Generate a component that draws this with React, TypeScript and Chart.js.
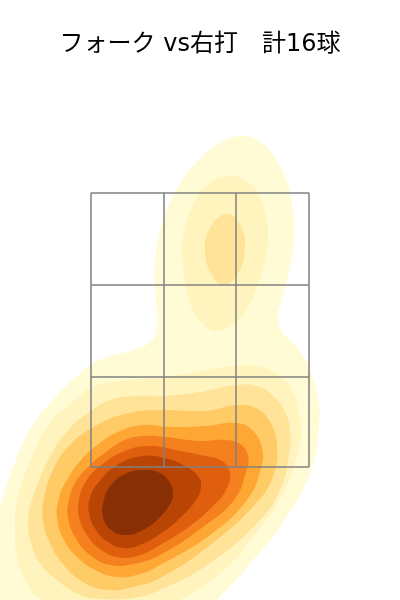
import React, { useEffect, useRef } from "react";
import { Chart, registerables } from "chart.js";

Chart.register(...registerables);

type P = [number, number];

const titleText = "フォーク vs右打　計16球";

const zoneX = [91, 164, 236, 309];
const zoneY = [193, 285, 377, 467];

const level1: P[] = [[245,136],[262,143],[274,156],[287,182],[293,212],[294,238],[289,272],[280,305],[278,318],[283,333],[297,347],[310,370],[318,400],[319,425],[310,473],[283,523],[260,552],[217,600],[170,640],[60,660],[-30,600],[-8,530],[2,500],[17,457],[33,425],[53,400],[75,378],[100,360],[133,350],[150,342],[157,328],[156,300],[155,272],[158,240],[165,215],[177,188],[197,162],[220,143]];
const level2a: P[] = [[233,176],[253,187],[265,212],[268,238],[263,268],[250,303],[238,320],[217,331],[202,323],[190,303],[183,265],[183,238],[192,208],[207,185]];
const level2b: P[] = [[292,390],[299,413],[301,433],[298,453],[291,475],[278,503],[260,528],[227,567],[180,600],[110,625],[42,600],[25,580],[17,557],[15,533],[17,500],[32,457],[50,423],[75,400],[92,387],[113,382],[140,379],[165,377],[200,371],[243,365],[262,367],[280,376]];
const level3a: P[] = [[227,214],[240,225],[245,248],[237,275],[223,285],[212,275],[205,252],[210,228]];
const level3b: P[] = [[284,410],[290,430],[289,455],[280,490],[260,520],[210,563],[160,590],[133,598],[100,599],[80,595],[57,580],[40,563],[31,543],[28,523],[32,500],[50,457],[70,428],[91,411],[113,399],[140,396],[165,396],[200,392],[237,385],[257,386],[272,395]];
const level4: P[] = [[270,422],[277,445],[274,473],[259,500],[210,545],[160,578],[133,587],[107,590],[83,582],[63,564],[50,543],[43,520],[44,498],[53,470],[68,447],[92,428],[125,414],[163,410],[205,411],[237,405],[256,408]];
const level5: P[] = [[252,430],[262,448],[261,468],[247,500],[210,535],[160,565],[137,575],[117,577],[97,571],[77,557],[63,538],[57,517],[59,498],[67,480],[82,459],[100,443],[120,431],[143,425],[170,427],[205,426],[237,423]];
const level6: P[] = [[248,456],[246,472],[234,500],[203,527],[160,555],[133,564],[110,565],[90,555],[75,537],[68,517],[69,500],[75,483],[88,467],[110,449],[125,440],[143,436],[165,437],[200,441],[225,440],[240,444]];
const level7: P[] = [[230,473],[226,490],[212,507],[190,526],[160,545],[137,556],[117,557],[100,549],[87,535],[79,517],[79,500],[85,483],[100,466],[125,451],[150,446],[180,451],[205,456],[222,461]];
const level8: P[] = [[201,486],[196,500],[180,518],[160,534],[140,545],[123,548],[108,542],[96,530],[89,513],[90,498],[98,483],[117,465],[143,456],[165,458],[185,466],[198,476]];
const level9: P[] = [[173,493],[171,502],[160,517],[143,530],[125,535],[111,530],[103,517],[104,500],[111,485],[125,474],[143,470],[160,473],[170,483]];

const levels: [P[], string][] = [
  [level9, "#882f05"],
  [level8, "#b94505"],
  [level7, "#df5f0e"],
  [level6, "#f4801e"],
  [level5, "#fea734"],
  [level4, "#fecb66"],
  [level3a, "#fee398"],
  [level3b, "#fee398"],
  [level2a, "#fff4be"],
  [level2b, "#fff4be"],
  [level1, "#fffbd5"],
];

// The spline is open in Chart.js, so the closed contour overlaps itself at its ends.
const toPts = (a: P[]) =>
  [a[a.length - 1], ...a, a[0], a[1]].map(([x, y]) => ({ x, y }));

export default function App() {
  const ref = useRef<HTMLCanvasElement>(null);
  useEffect(() => {
    document.body.style.margin = "0";
    const x0 = zoneX[0], x1 = zoneX[zoneX.length - 1];
    const y0 = zoneY[0], y1 = zoneY[zoneY.length - 1];
    const gridLine = (data: { x: number; y: number }[]) => ({
      type: "scatter" as const,
      data,
      showLine: true,
      borderColor: "#808080",
      borderWidth: 1.5,
      pointRadius: 0,
      fill: false,
      tension: 0,
    });
    const grid = [
      ...zoneX.map((x) => gridLine([{ x, y: y0 }, { x, y: y1 }])),
      ...zoneY.map((y) => gridLine([{ x: x0, y }, { x: x1, y }])),
    ];
    const fills = levels.map(([pts, color]) => ({
      type: "scatter" as const,
      data: toPts(pts),
      showLine: true,
      borderWidth: 0,
      borderColor: "transparent",
      backgroundColor: color,
      pointRadius: 0,
      fill: "shape",
      tension: 0.45,
      capBezierPoints: false,
    }));
    const chart = new Chart(ref.current!, {
      type: "scatter",
      data: { datasets: [...grid, ...fills] as any },
      options: {
        animation: false,
        responsive: false,
        layout: { padding: 0 },
        events: [],
        plugins: {
          legend: { display: false },
          tooltip: { enabled: false },
          title: {
            display: true,
            text: titleText,
            color: "#000000",
            font: { family: "'DejaVu Sans', 'Noto Sans CJK JP'", size: 24, weight: "normal", lineHeight: 1.2 },
            padding: { top: 30, bottom: 15.2 },
          },
        },
        scales: {
          x: { type: "linear", min: 0, max: 400, display: false },
          y: { type: "linear", min: 74, max: 600, reverse: true, display: false },
        },
      },
    });
    return () => chart.destroy();
  }, []);
  return <canvas ref={ref} width={400} height={600} style={{ display: "block" }} />;
}
